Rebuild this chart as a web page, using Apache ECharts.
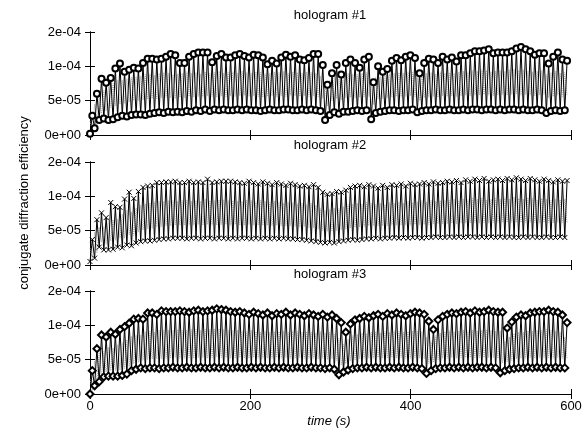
<!DOCTYPE html>
<html><head><meta charset="utf-8">
<script src="https://cdn.jsdelivr.net/npm/echarts/dist/echarts.min.js"></script>
<style>html,body{margin:0;padding:0;background:#fff}#c{width:587px;height:432px}</style>
</head><body><div id="c"></div>
<script>
// values in units of 1e-5
const xTicks = [0, 200, 400, 600];
const yTickLabels = ['0e+00', '5e-05', '1e-04', '2e-04'];
const panelTitles = ['hologram #1', 'hologram #2', 'hologram #3'];
const sampleStep = 5.75; // seconds between successive low samples

const holo1High = [2.8,6.0,8.2,7.6,8.3,9.7,10.4,9.2,9.5,9.8,9.7,
 10.5,11.1,11.1,11.0,11.1,11.4,11.8,11.6,10.5,10.5,
 11.4,11.8,12.0,12.0,12.0,10.6,11.5,11.8,11.3,11.3,
 11.6,11.8,11.5,11.3,11.7,11.6,11.3,10.3,10.8,10.4,
 11.3,11.7,11.4,11.6,11.0,10.9,11.2,11.8,11.8,10.2,
 7.3,9.0,10.2,8.8,10.5,11.0,10.5,9.8,11.0,11.4,
 7.7,10.0,9.2,9.6,10.8,11.2,10.9,11.4,11.6,11.2,
 9.0,10.5,11.1,11.0,10.5,11.4,11.0,11.3,10.7,11.6,
 11.6,11.9,12.2,12.2,12.3,12.5,11.9,12.0,12.0,12.0,
 12.2,12.6,12.8,12.5,12.2,11.7,11.9,11.9,10.4,11.4,
 12.0,11.0,10.8];
const holo1Low = [0.2,1.0,2.2,2.4,2.2,2.3,2.6,2.8,2.7,2.9,3.0,
 3.0,2.9,3.1,3.2,3.3,3.2,3.4,3.3,3.4,3.3,
 3.5,3.4,3.6,3.5,3.7,3.5,3.7,3.6,3.7,3.6,
 3.6,3.7,3.6,3.7,3.6,3.6,3.5,3.6,3.7,3.6,
 3.6,3.7,3.7,3.6,3.6,3.7,3.6,3.7,3.6,3.5,
 2.2,2.9,3.3,3.1,3.4,3.4,3.5,3.6,3.5,3.6,
 2.3,3.2,3.4,3.5,3.6,3.6,3.5,3.6,3.6,3.7,
 3.3,3.5,3.6,3.6,3.7,3.6,3.6,3.7,3.6,3.6,
 3.7,3.6,3.7,3.7,3.6,3.7,3.7,3.6,3.7,3.6,
 3.7,3.7,3.6,3.7,3.6,3.6,3.7,3.6,3.2,3.5,
 3.6,3.5,3.6];
const holo1GrayHi = [2.0,4.5,6.0,6.5,7.0,7.5,8.0,8.0,8.2,8.4,8.5,
 8.6,8.8,8.9,8.7,9.0,9.1,9.0,8.8,8.9,9.0,
 9.2,9.0,9.1,8.9,9.2,9.0,9.1,9.3,9.0,9.1,
 9.2,9.0,9.3,9.1,9.0,9.2,9.1,8.9,9.0,9.2,
 9.1,9.3,9.0,9.2,9.1,9.0,9.2,9.1,9.0,8.6,
 7.0,8.0,8.6,8.2,8.8,9.0,8.9,8.8,9.0,9.1,
 7.2,8.4,8.5,8.7,8.9,9.0,9.1,9.0,9.2,9.1,
 8.4,8.8,9.0,9.1,8.9,9.2,9.0,9.1,9.0,9.2,
 9.3,9.2,9.4,9.3,9.5,9.4,9.2,9.3,9.4,9.3,
 9.5,9.6,9.4,9.5,9.3,9.2,9.3,9.4,8.8,9.1,
 9.3,9.0,9.1];
const holo1GrayLo = [0.5,1.5,3.0,3.5,4.0,4.2,4.5,4.6,4.8,5.0,5.0,
 5.1,5.2,5.3,5.2,5.4,5.5,5.4,5.3,5.5,5.4,
 5.6,5.5,5.6,5.5,5.7,5.6,5.5,5.7,5.6,5.7,
 5.6,5.7,5.8,5.6,5.7,5.6,5.5,5.6,5.7,5.6,
 5.7,5.6,5.8,5.7,5.6,5.7,5.6,5.7,5.6,5.3,
 4.2,5.0,5.3,5.1,5.4,5.5,5.4,5.5,5.6,5.6,
 4.4,5.2,5.3,5.4,5.5,5.6,5.5,5.6,5.7,5.6,
 5.0,5.4,5.5,5.6,5.5,5.7,5.6,5.7,5.6,5.7,
 5.8,5.7,5.8,5.8,5.9,5.8,5.7,5.8,5.9,5.8,
 5.9,6.0,5.8,5.9,5.8,5.7,5.8,5.9,5.4,5.6,
 5.8,5.6,5.7];

const holo2High = [3.7,6.6,7.6,6.9,9.1,8.5,8.4,9.6,10.6,9.7,10.7,
 11.3,11.5,11.6,12.0,12.0,12.1,12.1,12.2,12.0,12.0,
 12.2,12.0,12.1,12.0,12.5,12.0,12.1,12.2,12.2,12.2,
 12.1,12.0,11.9,12.2,12.0,11.8,12.1,11.9,11.7,12.0,
 11.8,11.6,11.9,11.7,11.5,11.6,11.4,11.7,11.3,10.6,
 10.3,10.4,10.7,10.6,10.9,11.3,11.5,11.6,11.4,11.7,
 11.5,11.2,11.6,11.3,11.7,11.6,11.8,11.5,11.9,11.7,
 11.8,12.0,11.8,12.1,11.9,12.0,12.2,12.1,12.3,12.0,
 12.4,12.2,12.5,12.3,12.6,12.2,12.4,12.5,12.3,12.6,
 12.4,12.7,12.5,12.3,12.6,12.4,12.2,12.5,12.3,12.1,
 12.4,12.2,12.3];
const holo2Low = [0.5,1.0,2.6,2.2,2.2,2.3,2.6,2.5,2.9,2.8,3.2,
 3.4,3.5,3.5,3.6,3.7,3.8,3.8,3.9,3.9,3.9,
 3.8,3.9,3.9,3.8,3.9,3.9,3.8,3.9,3.9,3.8,
 3.9,3.8,3.9,3.9,3.8,3.9,3.8,3.9,3.8,3.9,
 3.8,3.9,3.8,3.8,3.7,3.7,3.6,3.5,3.4,3.3,
 3.2,3.3,3.2,3.4,3.5,3.6,3.7,3.6,3.7,3.8,
 3.8,3.9,3.8,3.9,3.9,4.0,3.9,4.0,3.9,4.0,
 4.0,3.9,4.0,4.0,4.1,4.0,4.0,4.1,4.0,4.1,
 4.0,4.1,4.1,4.0,4.1,4.0,4.1,4.0,4.1,4.0,
 4.1,4.0,4.0,4.1,4.0,4.1,4.0,4.0,4.1,4.0,
 4.0,4.1,4.0];
const holo2GrayHi = [2.5,4.8,5.5,5.6,6.8,6.6,6.7,7.4,8.0,7.7,8.3,
 8.7,8.9,9.0,9.2,9.3,9.3,9.4,9.4,9.3,9.4,
 9.5,9.3,9.4,9.3,9.6,9.4,9.4,9.5,9.5,9.4,
 9.4,9.3,9.3,9.5,9.4,9.2,9.4,9.3,9.1,9.3,
 9.2,9.0,9.2,9.1,8.9,9.0,8.8,9.0,8.7,8.2,
 8.0,8.1,8.3,8.2,8.5,8.8,8.9,9.0,8.9,9.1,
 9.0,8.8,9.0,8.8,9.1,9.0,9.2,9.0,9.3,9.1,
 9.2,9.4,9.2,9.4,9.3,9.4,9.5,9.4,9.6,9.4,
 9.6,9.5,9.7,9.6,9.8,9.5,9.6,9.7,9.6,9.8,
 9.6,9.9,9.7,9.6,9.8,9.7,9.5,9.7,9.6,9.4,
 9.6,9.5,9.6];
const holo2GrayLo = [0.8,1.8,3.3,3.0,3.5,3.6,3.9,3.9,4.4,4.3,4.8,
 5.1,5.3,5.3,5.5,5.6,5.7,5.7,5.8,5.8,5.8,
 5.8,5.8,5.9,5.8,5.9,5.8,5.8,5.9,5.9,5.8,
 5.9,5.8,5.8,5.9,5.8,5.8,5.8,5.8,5.7,5.8,
 5.7,5.7,5.7,5.6,5.5,5.6,5.4,5.4,5.2,5.0,
 4.9,5.0,5.0,5.1,5.2,5.4,5.5,5.5,5.6,5.7,
 5.7,5.7,5.7,5.7,5.8,5.8,5.8,5.8,5.8,5.9,
 5.9,5.9,5.9,6.0,6.0,6.0,6.0,6.1,6.0,6.1,
 6.1,6.1,6.2,6.1,6.2,6.1,6.2,6.2,6.2,6.2,
 6.2,6.2,6.2,6.2,6.2,6.2,6.1,6.2,6.2,6.1,
 6.2,6.2,6.1];

const holo3High = [3.4,6.6,8.6,8.3,9.0,8.7,9.4,9.8,10.3,10.9,11.0,
 10.9,11.8,11.8,11.6,12.1,12.0,12.0,12.0,12.1,12.0,
 11.9,12.1,12.2,12.0,12.1,12.2,12.4,12.3,12.2,12.0,
 11.9,12.0,11.8,11.6,11.9,11.7,11.5,11.8,11.4,11.7,
 11.6,11.9,11.5,11.8,11.6,11.4,11.7,11.5,11.3,11.6,
 11.2,11.5,11.0,10.4,9.0,10.2,10.8,11.0,11.3,11.1,
 11.4,11.6,11.3,11.7,11.5,11.8,11.6,11.4,11.7,11.9,
 11.8,11.6,10.6,9.4,10.8,11.3,11.6,11.8,11.7,11.9,
 12.0,11.8,12.1,11.9,12.0,12.2,12.0,11.9,11.9,9.6,
 10.5,11.2,11.5,11.4,11.8,11.9,12.0,12.0,12.2,12.0,
 11.9,11.5,10.4];
const holo3Low = [0.0,1.2,1.8,2.5,2.6,2.6,2.6,2.7,2.9,3.4,3.6,
 3.8,3.7,3.8,3.8,3.7,3.8,3.8,3.9,3.8,3.8,
 3.9,3.8,3.8,3.9,3.8,3.8,3.9,3.8,3.9,3.8,
 3.8,3.9,3.8,3.8,3.9,3.8,3.9,3.8,3.8,3.9,
 3.8,3.9,3.8,3.8,3.9,3.8,3.8,3.9,3.8,3.8,
 3.7,3.8,3.6,2.8,3.2,3.5,3.7,3.8,3.8,3.9,
 3.8,3.9,3.8,3.8,3.9,3.8,3.9,3.8,3.8,3.9,
 3.8,3.7,3.0,3.4,3.7,3.8,3.8,3.9,3.8,3.9,
 3.8,3.9,3.8,3.9,3.9,3.8,3.9,3.8,3.1,3.4,
 3.6,3.7,3.8,3.8,3.9,3.8,3.9,3.8,3.9,3.8,
 3.9,3.8,3.8];
const holo3GrayHi = [2.2,4.8,6.2,6.2,6.8,6.7,7.2,7.5,7.9,8.4,8.6,
 8.6,9.1,9.1,9.0,9.3,9.3,9.3,9.3,9.4,9.3,
 9.3,9.4,9.4,9.3,9.4,9.4,9.5,9.5,9.4,9.3,
 9.3,9.3,9.2,9.1,9.3,9.1,9.0,9.2,9.0,9.1,
 9.1,9.2,9.0,9.2,9.1,9.0,9.1,9.0,8.9,9.1,
 8.9,9.0,8.7,8.1,7.2,8.0,8.5,8.7,8.9,8.8,
 9.0,9.1,8.9,9.1,9.0,9.2,9.1,9.0,9.1,9.2,
 9.2,9.1,8.3,7.6,8.5,8.9,9.1,9.2,9.1,9.2,
 9.3,9.2,9.3,9.2,9.3,9.4,9.3,9.2,9.2,7.7,
 8.3,8.8,9.0,9.0,9.2,9.2,9.3,9.3,9.4,9.3,
 9.2,9.0,8.3];
const holo3GrayLo = [0.4,1.6,2.6,3.2,3.4,3.4,3.5,3.7,3.9,4.4,4.6,
 4.9,5.0,5.1,5.1,5.1,5.2,5.2,5.3,5.2,5.2,
 5.3,5.2,5.3,5.3,5.2,5.3,5.4,5.3,5.3,5.2,
 5.2,5.3,5.2,5.2,5.3,5.2,5.2,5.2,5.2,5.3,
 5.2,5.3,5.2,5.2,5.3,5.2,5.2,5.2,5.1,5.2,
 5.0,5.1,4.9,4.2,4.4,4.8,5.0,5.1,5.2,5.2,
 5.2,5.3,5.2,5.2,5.3,5.2,5.3,5.2,5.2,5.3,
 5.2,5.1,4.4,4.6,5.0,5.2,5.2,5.3,5.2,5.3,
 5.3,5.3,5.3,5.3,5.3,5.3,5.3,5.2,4.5,4.7,
 4.9,5.1,5.2,5.2,5.3,5.2,5.3,5.3,5.3,5.2,
 5.3,5.2,5.1];

const gridTops = [32, 162, 291];
const gridH = 103, gridL = 90, gridW = 481;

// black: low at k*step, high at k*step+step/2
function interleave(lows, highs) {
  const out = [];
  for (let k = 0; k < highs.length; k++) {
    out.push([k * sampleStep, lows[k]]);
    out.push([k * sampleStep + sampleStep / 2, highs[k]]);
  }
  return out;
}
// gray: high at black-low times, low at black-high times
function interleaveGray(his, los) {
  const out = [];
  for (let k = 0; k < his.length; k++) {
    out.push([k * sampleStep, his[k]]);
    out.push([k * sampleStep + sampleStep / 2, los[k]]);
  }
  return out;
}

const panels = [
  {hi: holo1High, lo: holo1Low, gHi: holo1GrayHi, gLo: holo1GrayLo, symbol: 'emptyCircle', size: 6},
  {hi: holo2High, lo: holo2Low, gHi: holo2GrayHi, gLo: holo2GrayLo, symbol: 'path://M0,0L10,10M10,0L0,10', size: 5},
  {hi: holo3High, lo: holo3Low, gHi: holo3GrayHi, gLo: holo3GrayLo, symbol: 'emptyDiamond', size: 7}
];

const font = 'Liberation Sans';
const grid = [], xAxis = [], yAxis = [], series = [], graphic = [];
panels.forEach((p, i) => {
  grid.push({left: gridL, width: gridW, top: gridTops[i], height: gridH, show: false});
  const axLine = {show: true, lineStyle: {color: '#000', width: 1}};
  const tick = {show: true, inside: true, length: 5, lineStyle: {color: '#000'}};
  xAxis.push({type: 'value', gridIndex: i, min: xTicks[0], max: xTicks[xTicks.length-1], interval: xTicks[1]-xTicks[0],
    position: 'bottom', axisLine: axLine, axisTick: tick, splitLine: {show: false},
    axisLabel: {show: i === 2, color: '#000', fontFamily: font, fontSize: 13, margin: 6}});
  xAxis.push({type: 'value', gridIndex: i, min: xTicks[0], max: xTicks[xTicks.length-1], interval: xTicks[1]-xTicks[0],
    position: 'top', axisLine: axLine, axisTick: tick, splitLine: {show: false}, axisLabel: {show: false}});
  yAxis.push({type: 'value', gridIndex: i, min: 0, max: 15, interval: 5, position: 'left',
    axisLine: axLine, axisTick: tick, splitLine: {show: false},
    axisLabel: {color: '#000', fontFamily: font, fontSize: 13, margin: 9,
      formatter: v => yTickLabels[Math.round(v / 5)]}});
  yAxis.push({type: 'value', gridIndex: i, min: 0, max: 15, interval: 5, position: 'right',
    axisLine: axLine, axisTick: tick, splitLine: {show: false}, axisLabel: {show: false}});
  series.push({type: 'line', xAxisIndex: 2*i, yAxisIndex: 2*i, data: interleaveGray(p.gHi, p.gLo),
    symbol: 'none', animation: false, silent: true, z: 1,
    lineStyle: {color: '#a8a8a8', width: 1, type: [1, 1]}});
  const isX = i === 1;
  series.push({type: 'line', xAxisIndex: 2*i, yAxisIndex: 2*i, data: interleave(p.lo, p.hi),
    symbol: p.symbol, symbolSize: p.size, showSymbol: true, animation: false, z: 3,
    lineStyle: {color: '#000', width: 1},
    itemStyle: isX ? {color: 'none', borderColor: '#000', borderWidth: 1}
                   : {color: '#000', borderColor: '#000', borderWidth: 0.8}});
  graphic.push({type: 'text', x: 330, y: gridTops[i] - 17,
    style: {text: panelTitles[i], font: '13px ' + font, fill: '#000', textAlign: 'center', align: 'center', textVerticalAlign: 'middle', verticalAlign: 'middle'}});
});

graphic.push({type: 'text', x: 329, y: 421,
  style: {text: 'time (s)', font: 'italic 13px ' + font, fill: '#000', textAlign: 'center', align: 'center', textVerticalAlign: 'middle', verticalAlign: 'middle'}});
graphic.push({type: 'text', x: 24, y: 203, rotation: Math.PI / 2,
  style: {text: 'conjugate diffraction efficiency', font: '13px ' + font, fill: '#000', textAlign: 'center', align: 'center', textVerticalAlign: 'middle', verticalAlign: 'middle'}});

const chart = echarts.init(document.getElementById('c'), null, {renderer: 'canvas'});
chart.setOption({animation: false, backgroundColor: '#fff', grid, xAxis, yAxis, series, graphic});
</script></body></html>
